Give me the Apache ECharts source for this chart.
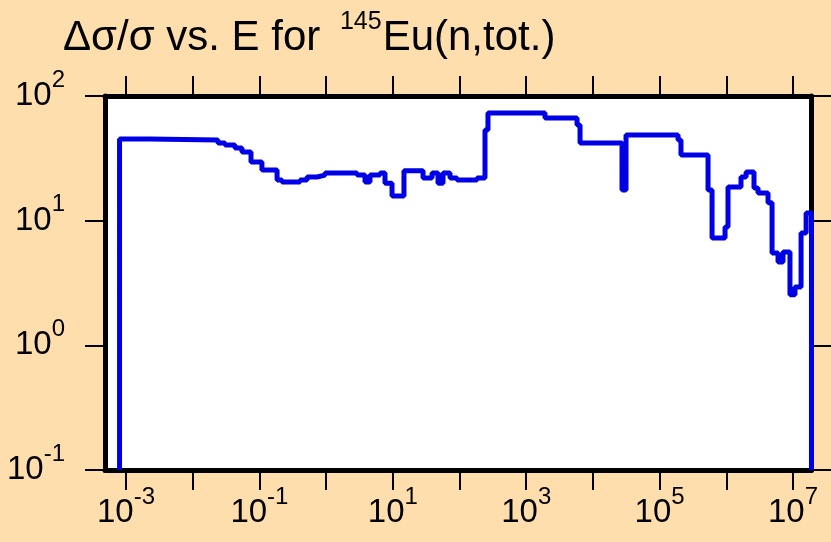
<!DOCTYPE html>
<html>
<head>
<meta charset="utf-8">
<script src="https://cdn.jsdelivr.net/npm/echarts@6/dist/echarts.min.js"></script>
<style>
html, body { margin: 0; padding: 0; background: #ffdead; }
#chart { width: 831px; height: 542px; }
</style>
</head>
<body>
<div id="chart"></div>
<script>
// bin lower edges in eV, last entry is the upper end of the last bin
var energyEdges = [8.0e-4, 2.29e-3, 0.0239, 0.0305, 0.043, 0.0548, 0.0748, 0.109, 0.184, 0.218,
    0.406, 0.518, 0.731, 0.964, 2.91, 3.83, 4.55, 6.43, 7.64, 9.73,
    14.7, 28.4, 38.7, 47.6, 56.6, 72.1, 91.8, 183, 241, 267,
    1914, 5780, 6410, 27300, 31340, 1.89e5, 2.09e5, 5.32e5, 6.11e5, 9.57e5,
    1.06e6, 1.66e6, 1.98e6, 2.60e6, 2.99e6, 4.22e6, 4.85e6, 5.96e6, 7.08e6, 9.0e6,
    1.07e7, 1.32e7, 1.57e7, 1.89e7];
// relative uncertainty (%) in each bin
var relErr = [45.2, 44.4, 42.0, 40.4, 38.3, 35.6, 29.6, 25.5, 21.2, 20.4,
    21.2, 22.4, 23.2, 24.1, 23.2, 20.4, 23.2, 24.1, 20.0, 15.8,
    25.1, 22.0, 24.1, 20.0, 24.1, 22.0, 21.2, 22.0, 53.4, 73.1,
    66.7, 58.5, 42.0, 17.6, 48.6, 44.4, 33.7, 17.6, 7.26, 8.89,
    18.6, 22.4, 24.6, 18.3, 16.7, 13.9, 5.5, 4.67, 5.61, 2.54,
    2.94, 7.96, 11.5];
var xTickExp = [-3, -2, -1, 0, 1, 2, 3, 4, 5, 6, 7];
var xLabelExp = [-3, -1, 1, 3, 5, 7];
var xMinExp = -3.315, xMaxExp = 7.277;
var yMin = 0.1, yMax = 100;

var pts = [[Math.log10(energyEdges[0]), yMin]];
for (var i = 0; i < relErr.length; i++) {
    pts.push([Math.log10(energyEdges[i]), relErr[i]]);
}
var last = energyEdges[energyEdges.length - 1];
pts.push([Math.log10(last), relErr[relErr.length - 1]]);
pts.push([Math.log10(last), yMin]);

// "10" with a raised exponent
var rich = {
    b: { fontFamily: 'Liberation Sans', fontSize: 33, color: '#000', lineHeight: 56 },
    s: { fontFamily: 'Liberation Sans', fontSize: 24, color: '#000', lineHeight: 1, verticalAlign: 'top' }
};
var frame = { show: true, onZero: false, lineStyle: { color: '#000', width: 5 } };
var tick = { show: true, inside: false, length: 20, lineStyle: { color: '#000', width: 2 } };

var chart = echarts.init(document.getElementById('chart'));
chart.setOption({
    backgroundColor: '#ffdead',
    animation: false,
    title: {
        text: '{t|\u0394\u03c3/\u03c3 vs. E for }{s|145}{t|Eu(n,tot.)}',
        left: 63, top: 10, padding: 0,
        textStyle: {
            fontWeight: 'normal',
            rich: {
                t: { fontFamily: 'Liberation Sans', fontWeight: 'normal', fontSize: 42, color: '#000', lineHeight: 57 },
                s: { fontFamily: 'Liberation Sans', fontWeight: 'normal', fontSize: 25, color: '#000', lineHeight: 1, verticalAlign: 'top', padding: [0, 1, 0, 8] }
            }
        }
    },
    grid: { left: 105, right: 19.5, top: 96, bottom: 72, show: true, backgroundColor: '#fff', borderWidth: 0 },
    xAxis: [{
        type: 'value', position: 'bottom', min: xMinExp, max: xMaxExp,
        axisLine: frame,
        axisTick: Object.assign({ customValues: xTickExp }, tick),
        axisLabel: {
            customValues: xLabelExp, margin: 15,
            formatter: function (v) { return '{b|10}{s|' + v + '}'; },
            rich: rich
        },
        splitLine: { show: false }
    }, {
        type: 'value', position: 'top', min: xMinExp, max: xMaxExp,
        axisLine: frame,
        axisTick: Object.assign({ customValues: xTickExp }, tick),
        axisLabel: { show: false },
        splitLine: { show: false }
    }],
    yAxis: [{
        type: 'log', logBase: 10, min: yMin, max: yMax, position: 'left',
        axisLine: frame,
        axisTick: tick,
        axisLabel: {
            margin: 40,
            formatter: function (v) { return '{b|10}{s|' + Math.round(Math.log10(v)) + '}'; },
            rich: rich
        },
        splitLine: { show: false }
    }, {
        type: 'log', logBase: 10, min: yMin, max: yMax, position: 'right',
        axisLine: frame,
        axisTick: tick,
        axisLabel: { show: false },
        splitLine: { show: false }
    }],
    series: [{
        type: 'line',
        step: 'end',
        data: pts,
        showSymbol: false,
        lineStyle: { color: '#0000e6', width: 5 },
        z: 1
    }]
});
</script>
</body>
</html>
